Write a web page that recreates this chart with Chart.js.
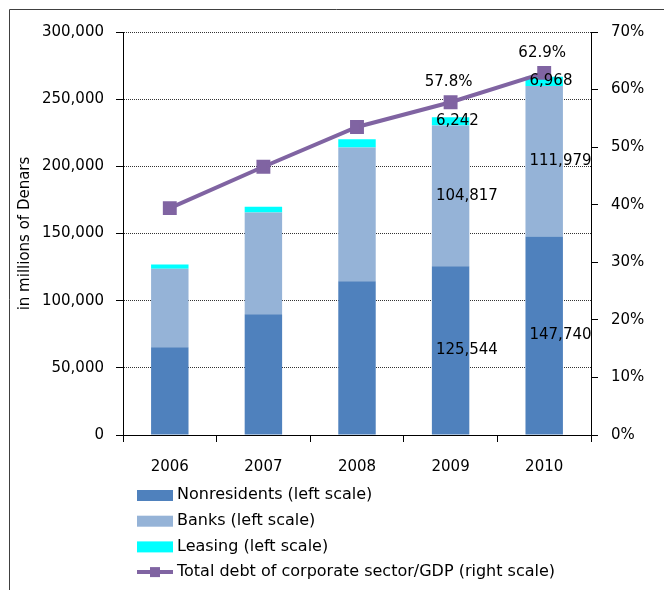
<!DOCTYPE html>
<html>
<head>
<meta charset="utf-8">
<script src="https://cdn.jsdelivr.net/npm/chart.js@4"></script>
<style>
  html, body { margin: 0; padding: 0; background: #fff; }
  #wrap { width: 664px; height: 590px; }
</style>
</head>
<body>
<div id="wrap"><canvas id="myChart" width="664" height="590"></canvas></div>
<script>
const years = ['2006', '2007', '2008', '2009', '2010'];
const nonresidents = [65300, 89900, 114400, 125544, 147740];
const banks = [58500, 75800, 99600, 104817, 111979];
const leasing = [3200, 4200, 6200, 6242, 6968];
const debtToGdp = [39.4, 46.6, 53.5, 57.8, 62.9];
const labeledYears = ['2009', '2010'];

const FONT = 'DejaVu Sans';
Chart.defaults.color = '#000';
Chart.defaults.font.family = FONT;
Chart.defaults.font.size = 15;

// frame round the picture
const framePlugin = {
    id: 'frame',
    beforeDraw(chart) {
        const ctx = chart.ctx;
        ctx.save();
        ctx.strokeStyle = '#404040';
        ctx.lineWidth = 1;
        ctx.beginPath();
        ctx.moveTo(9.5, chart.height);
        ctx.lineTo(9.5, 9.5);
        ctx.lineTo(chart.width, 9.5);
        ctx.stroke();
        ctx.restore();
    }
};

// value labels for the last two years
const labelPlugin = {
    id: 'valueLabels',
    afterDatasetsDraw(chart) {
        const ctx = chart.ctx;
        ctx.save();
        ctx.font = '15px ' + FONT;
        ctx.fillStyle = '#000';
        ctx.textBaseline = 'middle';
        chart.data.datasets.forEach((ds, di) => {
            const meta = chart.getDatasetMeta(di);
            meta.data.forEach((el, i) => {
                if (!labeledYears.includes(years[i])) return;
                const p = el.getProps(['x', 'y', 'base', 'width'], true);
                if (ds.type === 'line') {
                    ctx.textAlign = 'center';
                    ctx.fillText(ds.data[i].toFixed(1) + '%', p.x - 2, p.y - 20);
                } else {
                    ctx.textAlign = 'left';
                    ctx.fillText(ds.data[i].toLocaleString('en-US'), p.x - p.width / 2 + 4, (p.y + p.base) / 2);
                }
            });
        });
        ctx.restore();
    }
};

// legend as a vertical list under the axis
const legendPlugin = {
    id: 'listLegend',
    afterDraw(chart) {
        const ctx = chart.ctx;
        const x0 = 137, y0 = 495, rowH = 25.7, boxW = 36;
        const order = [1, 2, 3, 0];
        ctx.save();
        ctx.font = '16px ' + FONT;
        ctx.textBaseline = 'middle';
        ctx.textAlign = 'left';
        order.forEach((di, row) => {
            const ds = chart.data.datasets[di];
            const cy = y0 + row * rowH;
            if (ds.type === 'line') {
                ctx.strokeStyle = ds.borderColor;
                ctx.lineWidth = 4;
                ctx.beginPath();
                ctx.moveTo(x0, cy);
                ctx.lineTo(x0 + boxW, cy);
                ctx.stroke();
                ctx.fillStyle = ds.backgroundColor;
                ctx.fillRect(x0 + boxW / 2 - 5, cy - 5, 10, 10);
            } else {
                ctx.fillStyle = ds.backgroundColor;
                ctx.fillRect(x0, cy - 5, boxW, 11);
            }
            ctx.fillStyle = '#000';
            ctx.fillText(ds.label, x0 + boxW + 4, cy);
        });
        ctx.restore();
    }
};

const ctx = document.getElementById('myChart').getContext('2d');
const myChart = new Chart(ctx, {
    type: 'bar',
    data: {
        labels: years,
        datasets: [{
            type: 'line',
            label: 'Total debt of corporate sector/GDP (right scale)',
            data: debtToGdp,
            yAxisID: 'y1',
            borderColor: '#8064A2',
            backgroundColor: '#8064A2',
            borderWidth: 4,
            pointStyle: 'rect',
            pointRadius: 7,
            pointHoverRadius: 7,
            tension: 0,
            order: 0
        }, {
            label: 'Nonresidents (left scale)',
            data: nonresidents,
            backgroundColor: '#4F81BD',
            order: 1
        }, {
            label: 'Banks (left scale)',
            data: banks,
            backgroundColor: '#95B3D7',
            order: 1
        }, {
            label: 'Leasing (left scale)',
            data: leasing,
            backgroundColor: '#00FFFF',
            order: 1
        }]
    },
    options: {
        responsive: false,
        animation: false,
        datasets: {
            bar: { categoryPercentage: 0.8, barPercentage: 0.5 }
        },
        layout: { padding: { top: 32, left: 0, right: 0, bottom: 0 } },
        plugins: {
            legend: { display: false },
            tooltip: { enabled: false }
        },
        scales: {
            x: {
                stacked: true,
                grid: { drawOnChartArea: false, drawTicks: true, tickLength: 7, color: '#000', offset: true },
                border: { color: '#000', width: 1 },
                ticks: { padding: 16, color: '#000', font: { size: 15 } },
                afterFit(scale) { scale.height = 155; }
            },
            y: {
                stacked: true,
                position: 'left',
                min: 0,
                max: 300000,
                ticks: {
                    stepSize: 50000,
                    padding: 12,
                    color: '#000',
                    callback: v => v.toLocaleString('en-US')
                },
                grid: { color: '#333', lineWidth: 1, tickLength: 7, tickColor: '#000' },
                border: { color: '#000', width: 1, dash: [1, 1] },
                title: {
                    display: true,
                    text: 'in millions of Denars',
                    color: '#000',
                    font: { size: 15 },
                    padding: { top: 16, bottom: 0 }
                },
                afterFit(scale) { scale.width = 123; }
            },
            y1: {
                position: 'right',
                min: 0,
                max: 70,
                ticks: {
                    stepSize: 10,
                    padding: 13,
                    color: '#000',
                    callback: v => v + '%'
                },
                grid: { drawOnChartArea: false, tickLength: 7, color: '#000' },
                border: { color: '#000', width: 1 },
                afterFit(scale) { scale.width = 73; }
            }
        }
    },
    plugins: [framePlugin, labelPlugin, legendPlugin]
});
</script>
</body>
</html>
